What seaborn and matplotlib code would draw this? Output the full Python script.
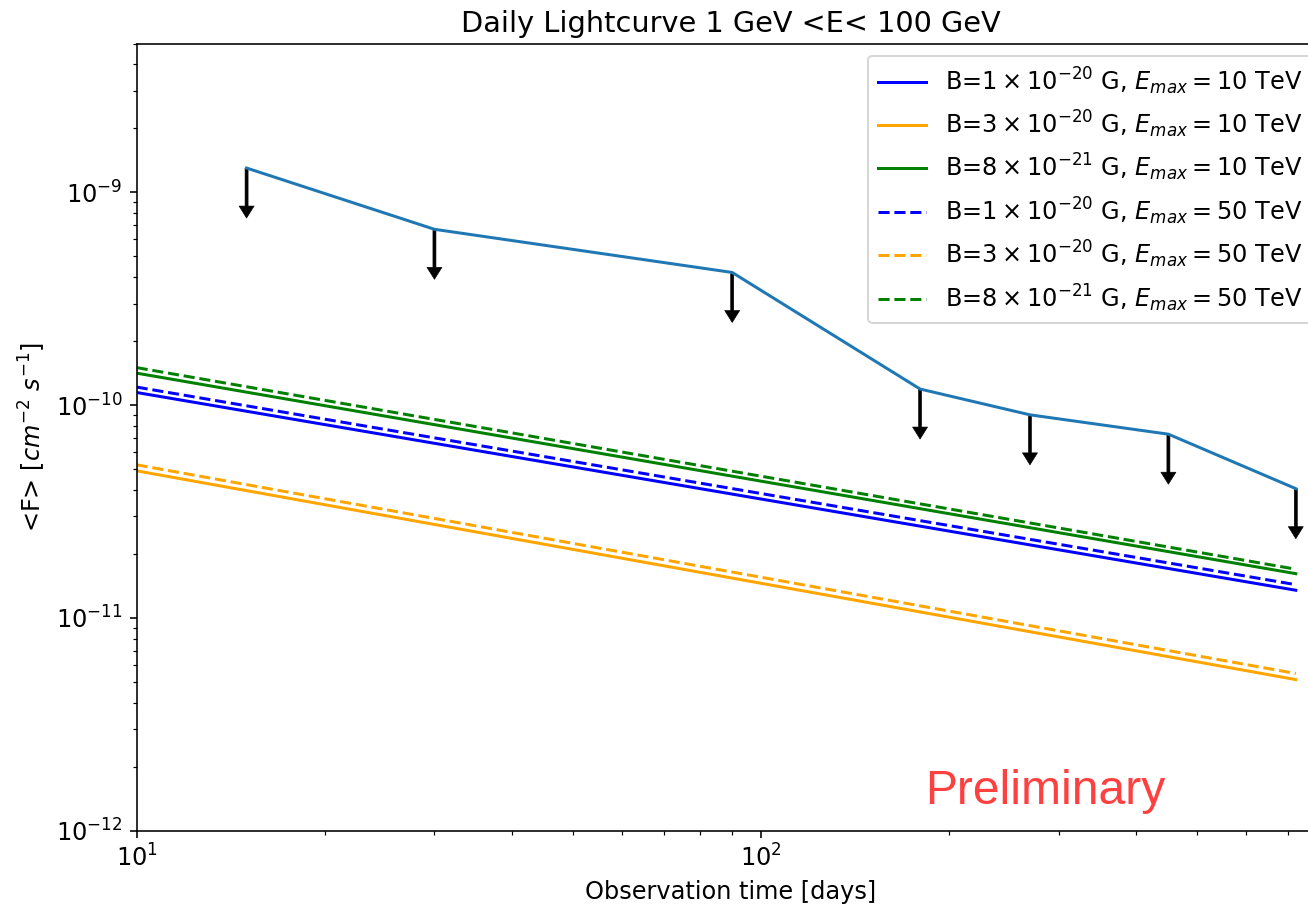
import matplotlib
matplotlib.use("Agg")
import matplotlib.pyplot as plt
import seaborn as sns
import numpy as np

# ---- data ----
t_obs = [15, 30, 90, 180, 270, 450, 720]                      # days
flux_ul = [1.30e-9, 6.7e-10, 4.2e-10, 1.19e-10, 9.0e-11, 7.3e-11, 4.05e-11]

t_model = [10, 720]
b1_e10 = [1.146e-10, 1.349e-11]
b3_e10 = [4.91e-11, 5.13e-12]
b8_e10 = [1.413e-10, 1.614e-11]
b1_e50 = [1.215e-10, 1.433e-11]
b3_e50 = [5.24e-11, 5.48e-12]
b8_e50 = [1.50e-10, 1.694e-11]

labels = [
    r'B=$1\times10^{-20}$ G, $E_{max}=10$ TeV',
    r'B=$3\times10^{-20}$ G, $E_{max}=10$ TeV',
    r'B=$8\times10^{-21}$ G, $E_{max}=10$ TeV',
    r'B=$1\times10^{-20}$ G, $E_{max}=50$ TeV',
    r'B=$3\times10^{-20}$ G, $E_{max}=50$ TeV',
    r'B=$8\times10^{-21}$ G, $E_{max}=50$ TeV',
]
series = [b1_e10, b3_e10, b8_e10, b1_e50, b3_e50, b8_e50]
colors = ['blue', 'orange', 'green', 'blue', 'orange', 'green']
styles = ['-', '-', '-', '--', '--', '--']

plt.rcParams['font.size'] = 12
plt.rcParams['font.family'] = ['DejaVu Sans']

DPI = 144
fig = plt.figure(figsize=(1308 / DPI, 907 / DPI), dpi=DPI)
ax = fig.add_axes([0.1045, 0.0841, 0.908, 0.8679])

# upper-limit light curve
sns.lineplot(x=t_obs, y=flux_ul, ax=ax, color='#1f77b4', lw=1.5,
             legend=False, zorder=3)
arrow_fac = 0.582
for t, f in zip(t_obs, flux_ul):
    ax.annotate('', xy=(t, f * arrow_fac), xytext=(t, f),
                arrowprops=dict(facecolor='black', edgecolor='black', lw=0.3,
                                width=1.5, headwidth=7.5, headlength=6,
                                shrink=0), zorder=2)

# model curves
for y, c, ls, lab in zip(series, colors, styles, labels):
    sns.lineplot(x=t_model, y=y, ax=ax, color=c, linestyle=ls, lw=1.5,
                 label=lab)

ax.set_xscale('log')
ax.set_yscale('log')
ax.set_xlim(10, 800)
ax.set_ylim(1e-12, 5e-9)
ax.set_title('Daily Lightcurve 1 GeV <E< 100 GeV')
ax.set_xlabel('Observation time [days]')
ax.set_ylabel(r'<F> [$cm^{-2}$ $s^{-1}$]')
ax.legend(loc='upper right')

ax.text(0.6638, 0.0339, 'Preliminary', transform=ax.transAxes,
        fontsize=24, color='red', alpha=0.75, family='Liberation Sans',
        va='baseline', ha='left')

fig.savefig('out.png', dpi=DPI)
